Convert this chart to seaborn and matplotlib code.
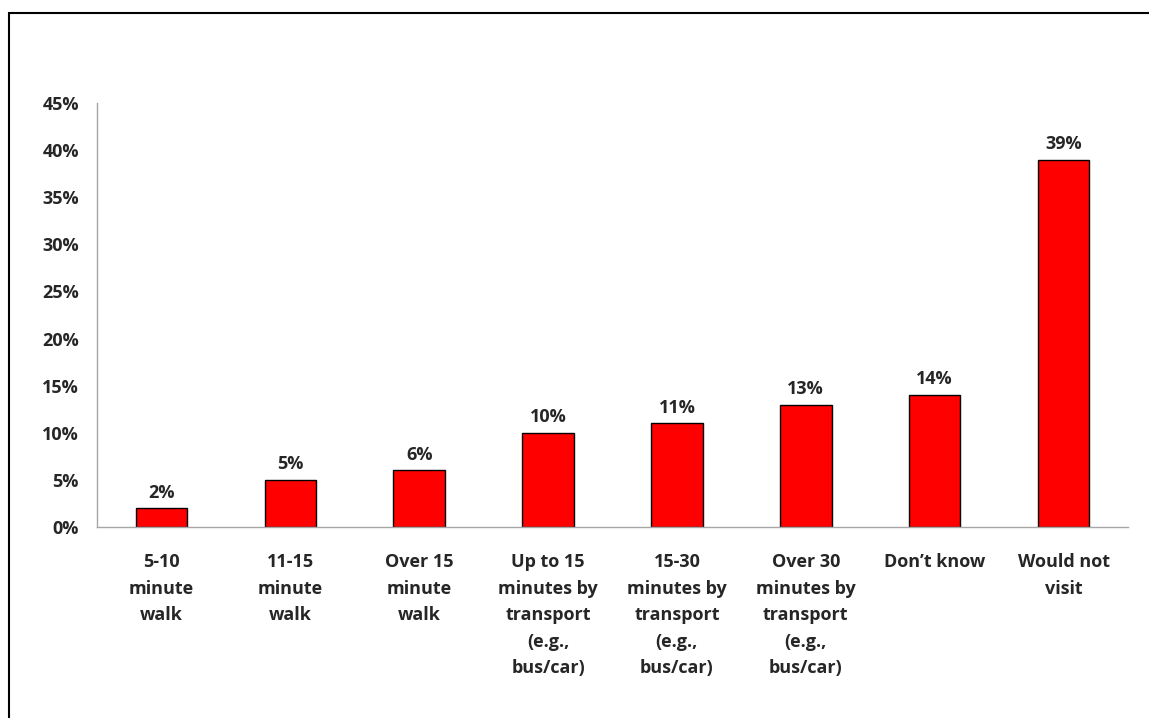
import numpy as np
import pandas as pd
import matplotlib
matplotlib.use("Agg")
import matplotlib.pyplot as plt
from matplotlib.patches import Rectangle
from matplotlib.ticker import FuncFormatter
import seaborn as sns

categories = [
    "5-10\nminute\nwalk",
    "11-15\nminute\nwalk",
    "Over 15\nminute\nwalk",
    "Up to 15\nminutes by\ntransport\n(e.g.,\nbus/car)",
    "15-30\nminutes by\ntransport\n(e.g.,\nbus/car)",
    "Over 30\nminutes by\ntransport\n(e.g.,\nbus/car)",
    "Don\u2019t know",
    "Would not\nvisit",
]
values = [2, 5, 6, 10, 11, 13, 14, 39]

df = pd.DataFrame({"category": categories, "value": values})

sns.set_style("white")
plt.rcParams["font.family"] = ["Open Sans", "DejaVu Sans"]
plt.rcParams["font.weight"] = "bold"

FS = 13

fig = plt.figure(figsize=(11.49, 7.18), dpi=100)
ax = fig.add_axes([97 / 1149, 1 - 527 / 718, (1128 - 97) / 1149, (527 - 103) / 718])

sns.barplot(data=df, x="category", y="value", color="#ff0000", saturation=1,
            width=0.4, edgecolor="black", linewidth=1, ax=ax)

# value labels above the bars
for i, v in enumerate(values):
    ax.text(i, v + 0.7, f"{v}%", ha="center", va="bottom",
            fontsize=FS, fontweight="bold")

grey = "#a6a6a6"
ax.set_xlim(-0.5, len(values) - 0.5)
ax.set_ylim(0, 45)
ax.set_yticks(np.arange(0, 46, 5))
ax.yaxis.set_major_formatter(FuncFormatter(lambda v, p: f"{v:.0f}%"))

# ticks between categories, labels centred under bars
ax.set_xticks(np.arange(-0.5, len(values), 1))
ax.set_xticklabels([])
ax.set_xticks(np.arange(len(values)), minor=True)
ax.set_xticklabels(categories, minor=True, fontsize=FS, fontweight="bold",
                   linespacing=1.6, va="top")
ax.tick_params(axis="x", which="minor", length=0, pad=19)
ax.tick_params(axis="x", which="major", length=7, color=grey, direction="out")
ax.tick_params(axis="y", length=7, color=grey, direction="out", labelsize=FS, pad=6)
for lab in ax.get_yticklabels():
    lab.set_fontweight("bold")

for s in ["top", "right"]:
    ax.spines[s].set_visible(False)
for s in ["left", "bottom"]:
    ax.spines[s].set_color(grey)
    ax.spines[s].set_linewidth(1)

ax.set_xlabel("")
ax.set_ylabel("")

# outer frame, open past the right and bottom edges
fig.patches.append(Rectangle((9 / 1149, -0.05), 1.2, 1 - 13 / 718 + 0.05,
                             transform=fig.transFigure, fill=False,
                             edgecolor="black", linewidth=1.5))

fig.savefig("out.png", dpi=100)
